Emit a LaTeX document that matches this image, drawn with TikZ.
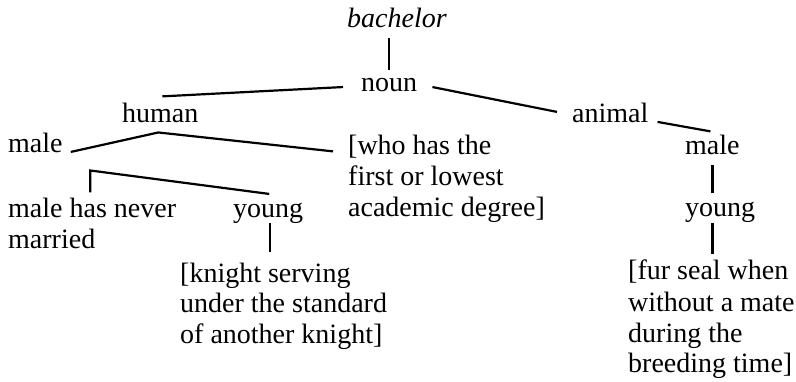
\documentclass[tikz,border=0pt]{standalone}
\usepackage{fontspec}
\setmainfont{Liberation Serif}
\usetikzlibrary{calc}
\begin{document}
\begin{tikzpicture}[x=1pt,y=-1pt,
  every node/.style={inner sep=0pt, font=\fontsize{28}{31}\selectfont},
  lbl/.style={anchor=base west},
  multi/.style={anchor=base west, align=left},
  conn/.style={line width=2.2pt}]
\useasboundingbox (0,0) rectangle (796,382);
% nodes (multi-line nodes are placed by the baseline of their last line)
\node[lbl, font=\fontsize{28}{31}\selectfont\itshape] (bachelor) at (347,28) {bachelor};
\node[lbl] (noun) at (361,92) {noun};
\node[lbl] (human) at (122,123) {human};
\node[lbl] (animal) at (572,123) {animal};
\node[lbl] (maleH) at (8,153) {male};
\node[multi] (who) at (348,217) {[who has the\\first or lowest\\academic degree]};
\node[lbl] (maleA) at (685,155) {male};
\node[multi] (never) at (8,249) {male has never\\married};
\node[lbl] (youngH) at (233,218) {young};
\node[lbl] (youngA) at (685,217) {young};
\node[multi] (knight) at (180,344) {[knight serving\\under the standard\\of another knight]};
\node[multi] (seal) at (628,373) {[fur seal when\\without a mate\\during the\\breeding time]};
% connectors
\draw[conn] ($(bachelor.south -| noun.north)+(0,10)$) -- ($(noun.north)+(0,-9)$);
\draw[conn] ($(noun.west)+(-18,1.5)$) -- ($(human.north)+(2,-7)$);
\draw[conn] ($(noun.east)+(15,1.5)$) -- ($(animal.west)+(-15,-1.5)$);
\draw[conn] ($(animal.east)+(9,8.5)$) -- ($(maleA.north)+(-2,-4)$);
\draw[conn] ($(maleA.south)+(0,10)$) -- ($(maleA.south |- youngA.north)+(0,-9.5)$);
\draw[conn] ($(maleA.south |- youngA.south)+(0,0)$) -- ($(maleA.south |- seal.north)+(0,-6)$);
\draw[conn] ($(maleH.east)+(8,8.5)$) -- ($(human.south)+(-2,9)$) -- ($(who.north west)+(-15,16)$);
\draw[conn] ($(never.north)+(-2,-6)$) -- ($(never.north |- maleH.south)+(-2,17)$) -- ($(youngH.north)+(1,-9.5)$);
\draw[conn] ($(youngH.south)+(2,-1)$) -- ($(youngH.south |- knight.north)+(2,-10)$);
\end{tikzpicture}
\end{document}
